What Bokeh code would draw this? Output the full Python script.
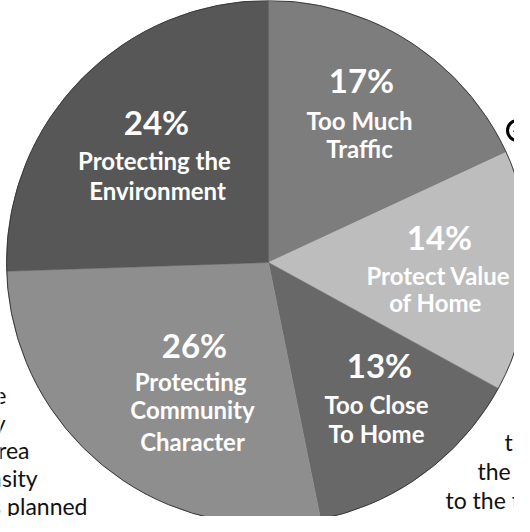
import numpy as np
from bokeh.plotting import figure
from bokeh.models import Range1d
from bokeh.embed import file_html
from bokeh.resources import INLINE
from bokeh.core.properties import value

# ---- data (clockwise from 12 o'clock) ----
categories = ["Too Much Traffic", "Protect Value of Home", "Too Close To Home",
              "Protecting Community Character", "Protecting the Environment"]
percent = [17, 14, 13, 26, 24]
label_lines = [["Too Much", "Traffic"], ["Protect Value", "of Home"],
               ["Too Close", "To Home"], ["Protecting", "Community", "Character"],
               ["Protecting the", "Environment"]]
left_text = ["he", "ly", "area", "nsity", "s planned"]
right_text = ["t", "th", "the p", "to the ta", "of the proces"]

# ---- styles / layout ----
colors = ["#7d7d7d", "#bdbdbd", "#686868", "#8e8e8e", "#575757"]
W, H = 514, 516
PAGE_H = 532
CX, CY, R = 276, PAGE_H - 270, 262

def Y(py):
    return PAGE_H - py

# label anchors in page pixels: (pct_x, pct_y, [line_xs], [line_ys])
label_pos = [
    (369, 87, [367, 367], [128, 156]),
    (447, 244, [446, 443], [283, 310]),
    (387, 372, [384, 384], [412, 441]),
    (202, 352, [198, 200, 200], [389, 417, 449]),
    (164, 129, [162, 165], [168, 198]),
]

p = figure(width=W, height=H, output_backend="svg", toolbar_location=None,
           x_range=Range1d(8, 8 + W), y_range=Range1d(8, 8 + H), min_border=0)
p.axis.visible = False
p.grid.visible = False
p.outline_line_color = None
p.background_fill_color = "white"
p.border_fill_color = "white"

total = float(sum(percent))
cum = np.concatenate([[0], np.cumsum(percent)]) / total * 2 * np.pi
for i, (pc, col) in enumerate(zip(percent, colors)):
    a_end = np.pi / 2 - cum[i]
    a_start = np.pi / 2 - cum[i + 1]
    p.wedge(x=CX, y=CY, radius=R, start_angle=a_start, end_angle=a_end,
            direction="anticlock",
            fill_color=col, line_color=col, line_width=0.5)

p.circle(x=CX, y=CY, radius=R, fill_color=None, line_color="#3a3a3a", line_width=1)

# slice labels
for i, pc in enumerate(percent):
    px, py, lxs, lys = label_pos[i]
    p.text(x=[px], y=[Y(py)], text=[f"{pc}%"], text_align="center",
           text_baseline="middle", text_font=value("Lato"), text_font_style="bold",
           text_font_size="33px", text_color="white")
    p.text(x=lxs, y=[Y(v) for v in lys], text=label_lines[i],
           text_align="center", text_baseline="middle", text_font=value("Lato"),
           text_font_style="bold", text_font_size="24px", text_color="white")

# surrounding page text fragments
left_x = [14, 13, 37, 45, 95]
left_y = [402, 430, 457, 485, 513]
p.text(x=left_x, y=[Y(v) for v in left_y], text=left_text, text_align="right",
       text_baseline="alphabetic", text_font=value("Lato"), text_font_size="23px",
       text_color="#111111")
right_x = [527, 512, 485, 453, 406]
right_y = [420, 449, 478, 507, 536]
p.text(x=right_x, y=[Y(v) for v in right_y], text=right_text, text_align="left",
       text_baseline="alphabetic", text_font=value("Lato"), text_font_size="23px",
       text_color="#111111")

# small arrow icon
p.circle(x=525, y=Y(138), radius=10, fill_color=None, line_color="black", line_width=3)
p.text(x=[525], y=[Y(138)], text=["\u2192"], text_align="center", text_baseline="middle",
       text_font=value("DejaVu Sans"), text_font_style="bold", text_font_size="12px",
       text_color="black")

open("out.html", "w").write(file_html(p, INLINE))
